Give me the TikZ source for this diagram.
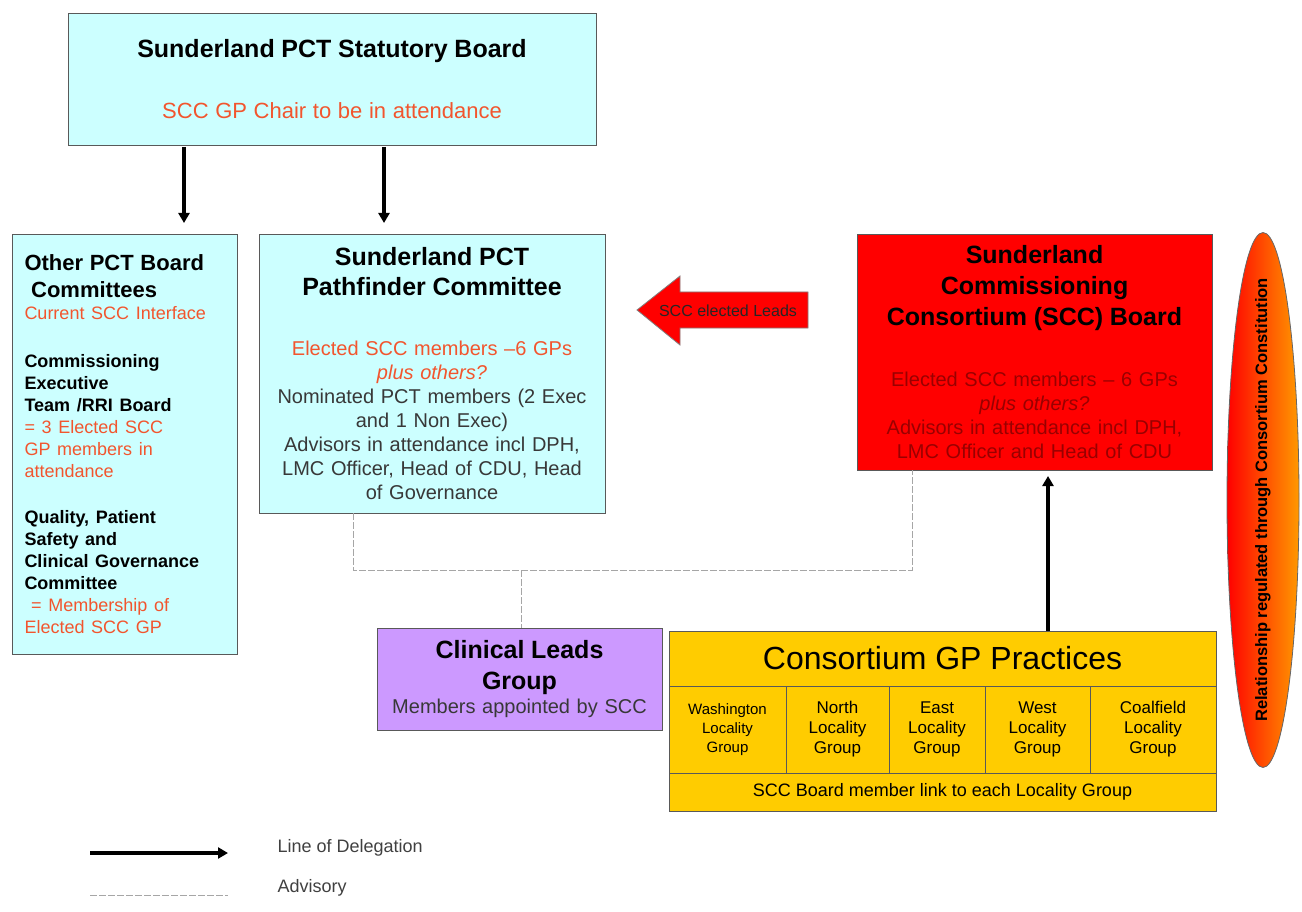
\documentclass[tikz,border=0pt]{standalone}
\usepackage{fontspec}
\setmainfont{Liberation Sans}
\usepackage{xcolor}
\definecolor{Pale Cyan}{HTML}{CCFFFF}
\definecolor{Pure Red}{HTML}{FF0000}
\definecolor{Lavender}{HTML}{CC99FF}
\definecolor{Amber}{HTML}{FFCC00}
\definecolor{Tangerine}{HTML}{FF9900}
\definecolor{Vermilion}{HTML}{F2552E}
\definecolor{Maroon}{HTML}{990000}
\colorlet{cCyan}{Pale Cyan}
\colorlet{cRed}{Pure Red}
\colorlet{cPurple}{Lavender}
\colorlet{cYellow}{Amber}
\colorlet{cAmber}{Tangerine}
\colorlet{cOrange}{Vermilion}
\colorlet{cDark}{Maroon}
\colorlet{cText}{black!78}
\usepackage{tikz}
\usetikzlibrary{arrows.meta, shapes.geometric}
\tikzset{
	line width = 1.2pt,
	font = \fontsize{20}{24}\selectfont,
	box/.style={
		draw=black!65,
		anchor=north west,
		inner sep=0pt,
		outer sep=0pt,
		align=center
	},
	pct box/.style={
		box,
		fill=cCyan
	},
	locality/.style={
		box,
		fill=cYellow,
		minimum height=87pt,
		font=\fontsize{17}{20}\selectfont
	},
	delegation/.style={
		-{Triangle[length=10pt, width=11pt]},
		line width=3.2pt
	},
	advisory/.style={
		draw=black!35,
		dash pattern=on 7pt off 2pt
	}
}

\begin{document}
\begin{tikzpicture}[x=1pt, y=-1pt]
\useasboundingbox (0,0) rectangle (1302,912);
% ---
% PCT boxes
% ---
\node[pct box, minimum width=528pt, minimum height=132pt, text width=500pt] at (68,13) (board) {%
	{\fontsize{25}{30}\selectfont\bfseries Sunderland PCT Statutory Board\par}
	\vspace{35pt}
	{\color{cOrange}\fontsize{22}{26}\selectfont SCC GP Chair to be in attendance\par}};

\node[pct box, minimum width=225pt, minimum height=420pt, text width=200pt, align=left] at (12,234) (other) {%
	{\fontsize{22}{27}\selectfont\bfseries Other PCT Board\\\ Committees\par}
	{\color{cOrange}\fontsize{18}{22}\selectfont Current SCC Interface\par}
	\vspace{26pt}
	{\fontsize{18}{22}\selectfont\bfseries Commissioning\\ Executive\\ Team /RRI Board\par}
	{\color{cOrange}\fontsize{18}{22}\selectfont = 3 Elected SCC\\ GP members in\\ attendance\par}
	\vspace{24pt}
	{\fontsize{18}{22}\selectfont\bfseries Quality, Patient\\ Safety and\\ Clinical Governance\\ Committee\par}
	{\color{cOrange}\fontsize{18}{22}\selectfont\ = Membership of\\ Elected SCC GP\par}};

\node[pct box, minimum width=346pt, minimum height=279pt, text width=330pt] at (259,234) (pathfinder) {%
	{\fontsize{25}{30}\selectfont\bfseries Sunderland PCT\\ Pathfinder Committee\par}
	\vspace{36pt}
	{\color{cOrange}Elected SCC members –6 GPs\\ \itshape plus others?\par}
	{\color{cText}Nominated PCT members (2 Exec\\ and 1 Non Exec)\\ Advisors in attendance incl DPH,\\ LMC Officer, Head of CDU, Head\\ of Governance\par}};

% ---
% SCC side
% ---
\node[box, fill=cRed, minimum width=355pt, minimum height=236pt, text width=340pt] at (857,234) (scc) {%
	{\fontsize{25}{31}\selectfont\bfseries Sunderland\\ Commissioning\\ Consortium (SCC) Board\par}
	\vspace{37pt}
	{\color{cDark}Elected SCC members – 6 GPs\\ \itshape plus others?\\ \upshape Advisors in attendance incl DPH,\\ LMC Officer and Head of CDU\par}};

\draw[fill=cRed, draw=black!50, line width=.8pt] (808,292) -- (680,292) -- (680,276) -- (637,310) -- (680,345) -- (680,328) -- (808,328) -- cycle;
\node[font=\fontsize{16}{19}\selectfont, text=black!85] at (728,311) (leads) {SCC elected Leads};

\node[box, fill=cPurple, minimum width=285pt, minimum height=102pt, text width=275pt] at (377,628) (clinical) {%
	{\fontsize{25}{31}\selectfont\bfseries Clinical Leads\\ Group\par}
	{\color{cText}Members appointed by SCC\par}};

\node[box, fill=cYellow, minimum width=547pt, minimum height=55pt, font=\fontsize{32}{38}\selectfont] at (669,631) (gp) {Consortium GP Practices};
\node[locality, minimum width=117pt, font=\fontsize{15}{19}\selectfont] at (669,686) (washington) {Washington\\ Locality\\ Group};
\node[locality, minimum width=103pt] at (786,686) (north) {North\\ Locality\\ Group};
\node[locality, minimum width=96pt] at (889,686) (east) {East\\ Locality\\ Group};
\node[locality, minimum width=105pt] at (985,686) (west) {West\\ Locality\\ Group};
\node[locality, minimum width=126pt] at (1090,686) (coalfield) {Coalfield\\ Locality\\ Group};
\node[box, fill=cYellow, minimum width=547pt, minimum height=38pt, font=\fontsize{18}{22}\selectfont] at (669,773) (link) {SCC Board member link to each Locality Group};

\node[ellipse, draw=black!60, line width=.8pt, left color=cRed, right color=cAmber, minimum width=72pt, minimum height=535pt, inner sep=0pt] at (1263,500) (constitution) {};
\node[rotate=90, font=\fontsize{16.5}{20}\selectfont\bfseries] at (constitution.center) (constitution-text) {Relationship regulated through Consortium Constitution};

% ---
% connectors
% ---
\draw[delegation, shorten <=2pt, shorten >=11pt] (board.south -| 184,0) -- (other.north -| 184,0);
\draw[delegation, shorten <=2pt, shorten >=11pt] (board.south -| 384,0) -- (pathfinder.north -| 384,0);
\draw[delegation, shorten >=6pt] (gp.north -| 1048,0) -- (scc.south -| 1048,0);

\coordinate (adv-l) at (353,570);
\coordinate (adv-m) at (521,570);
\coordinate (adv-r) at (912,570);
\draw[advisory] (pathfinder.south -| adv-l) -- (adv-l) -- (adv-r) -- (scc.south -| adv-r);
\draw[advisory] (adv-m) -- (clinical.north -| adv-m);

% ---
% legend
% ---
\coordinate (key-del-a) at (90,853);
\coordinate (key-del-b) at (228,853);
\draw[delegation] (key-del-a) -- (key-del-b);
\node[anchor=west, text=black!75, font=\fontsize{18}{22}\selectfont] at (274,848) (key-del) {Line of Delegation};
\coordinate (key-adv-a) at (90,895);
\coordinate (key-adv-b) at (228,895);
\draw[advisory] (key-adv-a) -- (key-adv-b);
\node[anchor=west, text=black!75, font=\fontsize{18}{22}\selectfont] at (274,888) (key-adv) {Advisory};
\end{tikzpicture}
\end{document}
